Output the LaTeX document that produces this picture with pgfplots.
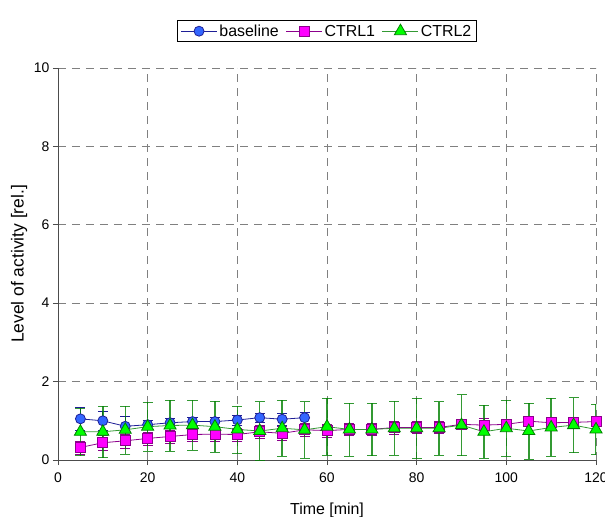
\documentclass[border=0pt]{standalone}
\usepackage{fontspec}
\setmainfont{Liberation Sans}
\usepackage{pgfplots}
\pgfplotsset{compat=1.18}

\definecolor{blfill}{RGB}{51,102,255}
\definecolor{blline}{RGB}{30,30,150}
\definecolor{c1fill}{RGB}{255,0,255}
\definecolor{c1line}{RGB}{140,0,140}
\definecolor{c2fill}{RGB}{0,255,0}
\definecolor{c2line}{RGB}{0,128,0}

\pgfplotstableread{
x y e
5 1.05 0.30
10 1.00 0.25
15 0.86 0.25
20 0.90 0.12
25 0.95 0.12
30 0.98 0.12
35 0.98 0.12
40 1.02 0.12
45 1.08 0.12
50 1.04 0.15
55 1.08 0.15
}\baseline

\pgfplotstableread{
x y e
5 0.32 0.17
10 0.44 0.19
15 0.49 0.18
20 0.55 0.17
25 0.60 0.17
30 0.65 0.17
35 0.66 0.17
40 0.65 0.17
45 0.72 0.17
50 0.68 0.17
55 0.77 0.17
60 0.75 0.17
65 0.78 0.15
70 0.78 0.15
75 0.83 0.17
80 0.83 0.15
85 0.83 0.15
90 0.91 0.12
95 0.89 0.17
100 0.91 0.12
105 0.99 0.12
110 0.95 0.12
115 0.96 0.10
120 0.98 0.10
}\ctrlone

\pgfplotstableread{
x y e
5 0.72 0.61
10 0.72 0.66
15 0.77 0.61
20 0.85 0.62
25 0.88 0.65
30 0.89 0.64
35 0.85 0.65
40 0.78 0.60
45 0.74 0.75
50 0.81 0.72
55 0.77 0.72
60 0.85 0.72
65 0.78 0.68
70 0.78 0.67
75 0.81 0.69
80 0.81 0.76
85 0.81 0.68
90 0.89 0.78
95 0.72 0.68
100 0.81 0.72
105 0.74 0.72
110 0.83 0.74
115 0.89 0.70
120 0.78 0.64
}\ctrltwo

\begin{document}
\begin{tikzpicture}
\begin{axis}[
    name=ax, at={(0,0)}, anchor=south west,
    scale only axis,
    width=538bp, height=392bp,
    xmin=0, xmax=120, ymin=0, ymax=10,
    xtick={0,20,...,120}, ytick={0,2,...,10},
    axis x line=bottom, axis y line=left,
    axis line style={-, color=black!70, line width=0.8pt},
    tick align=outside, major tick length=5bp,
    tick style={color=black!70, line width=0.8pt},
    grid=major,
    grid style={color=black!50, dash pattern=on 8bp off 6bp, line width=0.6pt},
    ticklabel style={font=\fontsize{14}{16}\selectfont},
    xticklabel style={yshift=-4bp},
    /pgf/number format/assume math mode=true,
    xlabel={Time [min]}, ylabel={Level of activity [rel.]},
    xlabel style={font=\fontsize{16}{19}\selectfont, yshift=-14bp},
    ylabel style={font=\fontsize{17.5}{21}\selectfont, yshift=0bp},
    legend style={at={(0.5,1)}, anchor=south, yshift=26bp,
        legend columns=-1, draw=black, line width=0.6pt,
        font=\fontsize{16}{19}\selectfont,
        /tikz/every even column/.append style={column sep=5bp}},
    legend image code/.code={
        \draw[mark repeat=2, mark phase=2] plot coordinates {(0bp,0bp) (18bp,0bp) (36bp,0bp)};},
    error bars/y dir=both, error bars/y explicit,
]
\addplot[color=blline, line width=0.8pt, mark=*, mark size=5bp,
    mark options={fill=blfill, draw=blline},
    error bars/error bar style={color=blline, line width=0.8pt},
    error bars/error mark options={rotate=90, mark size=5bp, color=blline}]
    table[x=x, y=y, y error=e] {\baseline};
\addlegendentry{baseline}
\addplot[color=c1line, line width=0.8pt, mark=square*, mark size=5bp,
    mark options={fill=c1fill, draw=c1line},
    error bars/error bar style={color=c1line, line width=0.8pt},
    error bars/error mark options={rotate=90, mark size=5bp, color=c1line}]
    table[x=x, y=y, y error=e] {\ctrlone};
\addlegendentry{CTRL1}
\addplot[color=c2line!80, line width=0.8pt, mark=triangle*, mark size=7bp,
    mark options={fill=c2fill, draw=c2line},
    error bars/error bar style={color=c2line, opacity=0.8, line width=1.5pt},
    error bars/error mark options={rotate=90, mark size=5bp, color=c2line}]
    table[x=x, y=y, y error=e] {\ctrltwo};
\addlegendentry{CTRL2}
\end{axis}
\pgfresetboundingbox
\useasboundingbox (-58bp,-57bp) rectangle (547bp,460bp);
\end{tikzpicture}
\end{document}
